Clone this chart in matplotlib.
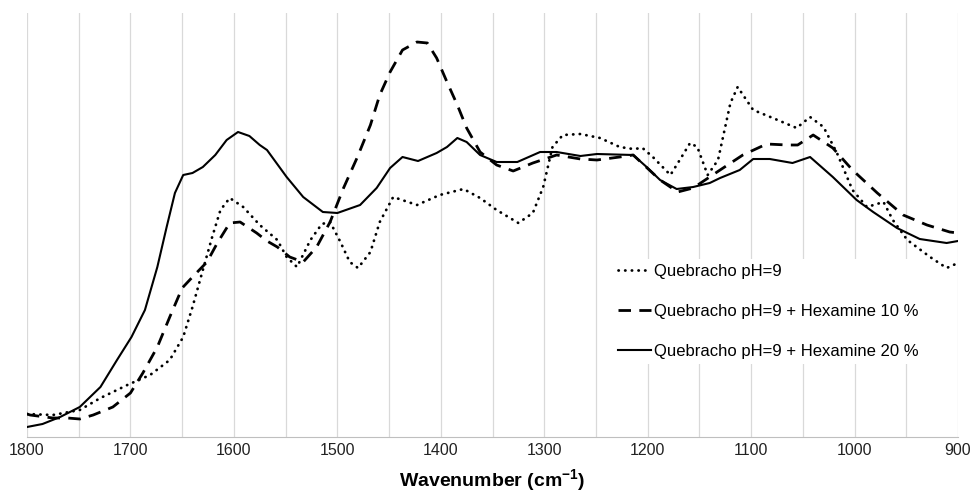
import matplotlib
matplotlib.use('Agg')
import matplotlib.pyplot as plt

plt.rcParams['font.family'] = ['Liberation Sans', 'DejaVu Sans']
plt.rcParams['mathtext.fontset'] = 'custom'
plt.rcParams['mathtext.rm'] = 'Liberation Sans'
plt.rcParams['mathtext.bf'] = 'Liberation Sans:bold'

# Quebracho pH=9 (dotted)
wn_q = [1800, 1775, 1749, 1729, 1703, 1681, 1662, 1649, 1640, 1630, 1621, 1613,
        1604, 1591, 1575, 1558, 1549, 1539, 1526, 1515, 1507, 1497, 1488, 1480,
        1468, 1459, 1446, 1423, 1401, 1378, 1362, 1346, 1325, 1311, 1301, 1292,
        1282, 1265, 1246, 1227, 1214, 1205, 1195, 1178, 1169, 1159, 1152, 1142,
        1132, 1120, 1113, 1098, 1079, 1056, 1043, 1030, 1017, 1002, 988, 972, 963,
        949, 927, 911, 900]
ab_q = [23, 22, 27, 39, 52, 62, 77, 100, 130, 167, 200, 227,
        239, 230, 212, 197, 180, 170, 197, 213, 215, 195, 175, 169,
        185, 215, 240, 232, 242, 248, 239, 227, 214, 224, 250, 290,
        302, 303, 299, 290, 288, 289, 280, 262, 277, 294, 290, 262,
        277, 334, 350, 327, 319, 309, 320, 310, 284, 247, 230, 235, 217,
        197, 180, 169, 174]

# Quebracho pH=9 + Hexamine 10 % (dashed)
wn_h10 = [1800, 1797, 1775, 1761, 1749, 1736, 1717, 1700, 1688, 1674, 1662, 1650,
          1640, 1626, 1616, 1604, 1594, 1578, 1568, 1558, 1546, 1533, 1520, 1507,
          1494, 1481, 1468, 1459, 1449, 1437, 1423, 1413, 1404, 1394, 1384, 1375,
          1362, 1346, 1330, 1311, 1288, 1265, 1249, 1227, 1214, 1188, 1171, 1156,
          1130, 1108, 1085, 1065, 1055, 1040, 1021, 1002, 978, 953, 930, 908, 900]
ab_h10 = [23, 22, 19, 19, 18, 22, 30, 44, 64, 90, 120, 149,
          160, 175, 194, 214, 215, 204, 196, 190, 180, 175, 190, 215,
          249, 279, 312, 342, 365, 387, 395, 394, 379, 355, 332, 309,
          285, 272, 266, 274, 282, 278, 277, 280, 282, 257, 245, 249,
          267, 282, 293, 292, 292, 302, 289, 267, 244, 222, 212, 205, 204]

# Quebracho pH=9 + Hexamine 20 % (solid)
wn_h20 = [1800, 1785, 1768, 1749, 1729, 1713, 1699, 1686, 1674, 1665, 1657, 1649,
          1640, 1630, 1618, 1607, 1596, 1585, 1575, 1568, 1549, 1533, 1514, 1500,
          1478, 1462, 1449, 1437, 1422, 1404, 1394, 1384, 1375, 1362, 1346, 1326,
          1304, 1288, 1265, 1249, 1214, 1201, 1188, 1172, 1156, 1140, 1130, 1111,
          1098, 1082, 1060, 1043, 1021, 998, 982, 959, 937, 911, 900]
ab_h20 = [10, 13, 20, 30, 50, 77, 100, 127, 170, 210, 244, 262,
          264, 270, 282, 297, 305, 301, 292, 287, 260, 240, 225, 224,
          232, 249, 269, 280, 276, 284, 290, 299, 295, 282, 275, 275,
          285, 285, 281, 283, 282, 270, 257, 248, 250, 254, 259, 267,
          278, 278, 274, 280, 260, 237, 225, 209, 198, 194, 196]

labels = ['Quebracho pH=9',
          'Quebracho pH=9 + Hexamine 10 %',
          'Quebracho pH=9 + Hexamine 20 %']

fig = plt.figure(figsize=(9.75, 4.92), dpi=100)
ax = fig.add_axes([27 / 975, 1 - 437 / 492, 931 / 975, 424 / 492])

ax.plot(wn_q, ab_q, color='black', lw=2.0, linestyle=(0, (0.1, 2.3)),
        dash_capstyle='round', solid_joinstyle='round', label=labels[0])
ax.plot(wn_h10, ab_h10, color='black', lw=2.0, linestyle=(0, (4.5, 3)),
        solid_joinstyle='round', label=labels[1])
ax.plot(wn_h20, ab_h20, color='black', lw=1.5, solid_joinstyle='round',
        label=labels[2])

ax.set_xlim(1800, 900)
ax.set_ylim(0, 424)
ax.set_xticks(range(1800, 899, -100))
ax.set_xticks(range(1750, 899, -100), minor=True)
ax.grid(axis='x', which='both', color='#d9d9d9', lw=0.9)
ax.set_axisbelow(True)
ax.set_yticks([])
for s in ['left', 'top', 'right']:
    ax.spines[s].set_visible(False)
ax.spines['bottom'].set_color('#bfbfbf')
ax.tick_params(axis='x', which='both', length=0, pad=4, labelsize=11.5,
               labelcolor='#222222')

ax.set_xlabel(r'Wavenumber (cm$^{\mathbf{-1}}$)', fontsize=14, fontweight='bold',
              labelpad=7)

leg = ax.legend(loc='upper left', bbox_to_anchor=(0.6295, 0.42), fontsize=12,
                frameon=True, facecolor='white', edgecolor='none', framealpha=1,
                handlelength=2.0, handletextpad=0.15, labelspacing=1.5,
                borderpad=0.3, borderaxespad=0, fancybox=False)

fig.savefig('out.png', dpi=100)
